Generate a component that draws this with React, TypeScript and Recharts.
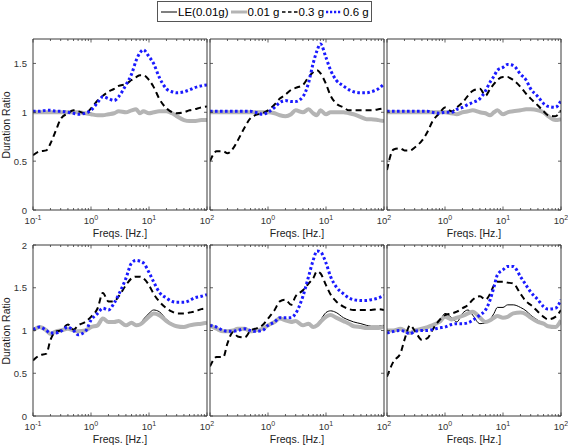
import React from 'react';
import { LineChart, Line, XAxis, YAxis } from 'recharts';

// sample frequencies (Hz) shared by every panel
const FREQS = [0.1, 0.13, 0.17, 0.2, 0.25, 0.3, 0.4, 0.5, 0.6, 0.8, 1, 1.3, 1.6, 2, 2.5, 3, 4, 5, 6, 7, 8, 10, 12, 15, 20, 25, 30, 40, 50, 60, 80, 100];

const X_MAJOR = [0.1, 1, 10, 100];
const X_MINOR = [0.2, 0.3, 0.4, 0.5, 0.6, 0.7, 0.8, 0.9, 2, 3, 4, 5, 6, 7, 8, 9, 20, 30, 40, 50, 60, 70, 80, 90];
const Y_TICKS_TOP = [0, 0.5, 1, 1.5];
const Y_TICKS_BOTTOM = [0, 0.5, 1, 1.5, 2];

const LEGEND = ['LE(0.01g)', '0.01 g', '0.3 g', '0.6 g'];

// top row
const P1_LE = [1.0, 1.0, 1.0, 1.0, 1.0, 1.0, 1.0, 1.0, 1.0, 0.99, 0.99, 0.97, 0.97, 0.98, 0.99, 1.01, 1.0, 1.02, 1.02, 0.98, 1.01, 0.99, 1.0, 1.01, 1.0, 0.99, 0.96, 0.92, 0.91, 0.91, 0.92, 0.92];
const P1_G01 = [1.0, 1.0, 1.0, 1.0, 1.0, 1.0, 1.0, 1.0, 1.0, 0.99, 0.98, 0.97, 0.97, 0.98, 0.99, 1.01, 1.0, 1.02, 1.03, 0.99, 1.01, 0.99, 1.0, 1.01, 1.01, 0.99, 0.96, 0.92, 0.91, 0.91, 0.92, 0.92];
const P1_G03 = [0.56, 0.6, 0.61, 0.68, 0.82, 0.93, 0.99, 1.02, 1.01, 0.99, 1.04, 1.12, 1.17, 1.21, 1.24, 1.27, 1.29, 1.33, 1.36, 1.38, 1.38, 1.33, 1.26, 1.14, 1.04, 1.0, 0.99, 1.0, 1.02, 1.03, 1.05, 1.06];
const P1_G06 = [1.01, 1.01, 1.02, 1.02, 1.01, 1.01, 1.0, 0.99, 0.98, 0.99, 1.02, 1.1, 1.16, 1.14, 1.12, 1.16, 1.28, 1.39, 1.53, 1.61, 1.64, 1.57, 1.5, 1.36, 1.24, 1.21, 1.2, 1.21, 1.23, 1.25, 1.27, 1.28];

const P2_LE = [1.0, 1.0, 1.0, 1.0, 1.0, 1.0, 1.0, 1.0, 1.0, 1.0, 1.0, 0.99, 0.97, 0.96, 0.98, 1.02, 1.0, 1.03, 0.99, 0.97, 1.01, 0.98, 1.0, 1.0, 1.0, 0.99, 0.98, 0.95, 0.93, 0.93, 0.92, 0.91];
const P2_G01 = [1.0, 1.0, 1.0, 1.0, 1.0, 1.0, 1.0, 1.0, 1.0, 1.0, 1.0, 0.99, 0.97, 0.96, 0.98, 1.02, 1.0, 1.03, 0.99, 0.97, 1.02, 0.98, 1.0, 1.0, 1.0, 0.99, 0.98, 0.95, 0.93, 0.93, 0.92, 0.91];
const P2_G03 = [0.5, 0.6, 0.6, 0.58, 0.63, 0.71, 0.85, 0.94, 0.97, 0.99, 1.02, 1.08, 1.14, 1.18, 1.23, 1.25, 1.28, 1.36, 1.41, 1.43, 1.4, 1.29, 1.17, 1.09, 1.05, 1.02, 1.02, 1.02, 1.02, 1.02, 1.03, 1.04];
const P2_G06 = [1.01, 1.01, 1.01, 1.01, 1.01, 1.01, 1.01, 1.01, 1.0, 0.98, 1.0, 1.05, 1.1, 1.12, 1.11, 1.11, 1.16, 1.3, 1.5, 1.63, 1.7, 1.56, 1.43, 1.33, 1.27, 1.23, 1.21, 1.2, 1.2, 1.21, 1.24, 1.29];

const P3_LE = [1.0, 1.0, 1.0, 1.0, 1.0, 1.0, 1.0, 1.0, 1.0, 1.0, 1.0, 0.99, 0.98, 1.0, 1.01, 1.02, 1.0, 0.99, 0.97, 1.0, 1.01, 0.98, 1.0, 1.01, 1.02, 1.03, 1.03, 1.02, 1.0, 0.96, 0.92, 0.93];
const P3_G01 = [1.0, 1.0, 1.0, 1.0, 1.0, 1.0, 1.0, 1.0, 1.0, 1.0, 1.0, 0.99, 0.98, 1.0, 1.01, 1.02, 1.0, 0.99, 0.97, 1.0, 1.02, 0.98, 1.0, 1.01, 1.02, 1.03, 1.03, 1.02, 1.0, 0.96, 0.92, 0.93];
const P3_G03 = [0.41, 0.62, 0.63, 0.61, 0.61, 0.64, 0.71, 0.8, 0.9, 0.99, 1.05, 1.01, 1.05, 1.1, 1.17, 1.22, 1.24, 1.17, 1.24, 1.29, 1.33, 1.36, 1.36, 1.33, 1.26, 1.19, 1.14, 1.07, 1.01, 0.97, 0.96, 1.02];
const P3_G06 = [1.01, 1.01, 1.01, 1.01, 1.01, 1.01, 1.01, 1.01, 1.0, 0.99, 1.0, 1.0, 1.03, 1.05, 1.08, 1.1, 1.14, 1.22, 1.31, 1.37, 1.43, 1.46, 1.49, 1.48, 1.39, 1.33, 1.24, 1.16, 1.09, 1.06, 1.05, 1.12];

// bottom row
const P4_LE = [1.0, 1.04, 1.0, 0.96, 0.99, 1.0, 1.02, 1.0, 0.99, 1.0, 1.04, 1.06, 1.14, 1.1, 1.1, 1.11, 1.06, 1.09, 1.07, 1.08, 1.13, 1.2, 1.24, 1.22, 1.13, 1.08, 1.05, 1.04, 1.06, 1.07, 1.08, 1.09];
const P4_G01 = [1.0, 1.04, 1.0, 0.96, 0.99, 1.0, 1.02, 1.0, 0.99, 1.0, 1.04, 1.06, 1.14, 1.1, 1.1, 1.11, 1.06, 1.09, 1.06, 1.07, 1.1, 1.16, 1.2, 1.18, 1.11, 1.07, 1.05, 1.04, 1.06, 1.07, 1.08, 1.09];
const P4_G03 = [0.65, 0.71, 0.73, 0.89, 0.99, 1.0, 1.07, 1.01, 1.06, 1.1, 1.16, 1.26, 1.44, 1.34, 1.34, 1.4, 1.53, 1.61, 1.63, 1.63, 1.61, 1.53, 1.43, 1.34, 1.26, 1.22, 1.2, 1.2, 1.21, 1.22, 1.25, 1.26];
const P4_G06 = [1.01, 1.04, 1.0, 0.97, 0.97, 0.99, 1.04, 1.0, 0.95, 0.99, 1.12, 1.2, 1.26, 1.24, 1.32, 1.42, 1.61, 1.79, 1.82, 1.81, 1.79, 1.68, 1.57, 1.45, 1.38, 1.34, 1.33, 1.33, 1.35, 1.38, 1.4, 1.42];

const P5_LE = [1.06, 1.02, 0.99, 0.99, 1.0, 1.02, 1.02, 0.99, 1.0, 1.02, 1.06, 1.1, 1.14, 1.12, 1.1, 1.11, 1.06, 1.08, 1.05, 1.07, 1.12, 1.21, 1.23, 1.21, 1.15, 1.12, 1.1, 1.08, 1.06, 1.05, 1.05, 1.06];
const P5_G01 = [1.06, 1.02, 0.99, 0.99, 1.0, 1.02, 1.02, 0.99, 1.0, 1.02, 1.06, 1.1, 1.14, 1.12, 1.1, 1.11, 1.06, 1.08, 1.04, 1.06, 1.1, 1.16, 1.18, 1.15, 1.11, 1.08, 1.05, 1.04, 1.03, 1.03, 1.03, 1.05];
const P5_G03 = [0.58, 0.69, 0.69, 0.85, 0.98, 0.93, 0.92, 1.0, 1.02, 1.06, 1.14, 1.24, 1.34, 1.36, 1.3, 1.4, 1.47, 1.55, 1.61, 1.69, 1.67, 1.53, 1.42, 1.34, 1.28, 1.25, 1.24, 1.24, 1.24, 1.24, 1.25, 1.24];
const P5_G06 = [1.06, 1.04, 1.0, 0.99, 0.99, 1.0, 1.02, 1.0, 0.99, 1.0, 1.06, 1.1, 1.15, 1.15, 1.15, 1.2, 1.4, 1.63, 1.82, 1.93, 1.92, 1.79, 1.63, 1.51, 1.43, 1.38, 1.36, 1.35, 1.35, 1.36, 1.38, 1.41];

const P6_LE = [1.0, 1.0, 1.02, 1.0, 0.98, 1.0, 1.0, 1.03, 1.06, 1.1, 1.2, 1.15, 1.1, 1.2, 1.24, 1.18, 1.08, 1.09, 1.13, 1.2, 1.27, 1.27, 1.3, 1.3, 1.27, 1.23, 1.18, 1.12, 1.08, 1.06, 1.04, 1.1];
const P6_G01 = [1.0, 1.0, 1.02, 1.0, 0.97, 1.0, 1.02, 1.04, 1.06, 1.1, 1.16, 1.13, 1.15, 1.17, 1.2, 1.22, 1.15, 1.1, 1.12, 1.15, 1.17, 1.15, 1.16, 1.2, 1.21, 1.19, 1.15, 1.1, 1.08, 1.05, 1.04, 1.12];
const P6_G03 = [0.46, 0.64, 0.73, 0.89, 1.06, 1.0, 0.89, 0.91, 1.0, 1.12, 1.18, 1.2, 1.22, 1.26, 1.3, 1.36, 1.4, 1.36, 1.43, 1.53, 1.57, 1.57, 1.56, 1.55, 1.43, 1.34, 1.3, 1.22, 1.16, 1.13, 1.16, 1.24];
const P6_G06 = [0.97, 0.99, 1.0, 0.99, 0.96, 0.99, 1.0, 1.0, 1.01, 1.03, 1.04, 1.07, 1.08, 1.08, 1.09, 1.12, 1.18, 1.24, 1.36, 1.51, 1.65, 1.71, 1.75, 1.75, 1.63, 1.53, 1.45, 1.36, 1.28, 1.25, 1.26, 1.36];

const FONT = '"Liberation Sans", Arial, Helvetica, sans-serif';
const AXIS = '#3a3a3a';
const TEXT = '#333';
const C = {
  le: '#000',
  g01: '#b4b4b4',
  g03: '#000',
  g06: '#1a1aff',
};

// plot area geometry; every axis takes 1px, margins around that
const PW = 174;
const PH = 171;
const AX = 1;
const ML = 29;
const MT = 9;
const MR = 9;
const MB = 29;
const COL_X = [33, 210, 387];
const ROW_Y = [39, 245];

const X_TICKS = [...X_MAJOR, ...X_MINOR].sort((a, b) => a - b);

// the 10^-1 label is only drawn on the first column, the neighbour's 10^2 sits there
function xTick(side: 'top' | 'bottom', firstCol: boolean) {
  return (p: any) => {
    const v = p.payload.value;
    const major = X_MAJOR.includes(v);
    const len = major ? 3.5 : 2;
    const dir = side === 'bottom' ? -1 : 1;
    const showLabel = side === 'bottom' && major && (firstCol || v !== X_MAJOR[0]);
    return (
      <g>
        <line x1={p.x} x2={p.x} y1={p.y} y2={p.y + dir * len} stroke={AXIS} strokeWidth={0.8} />
        {showLabel && (
          <text x={p.x} y={p.y + 14} textAnchor="middle" fontSize={9.5} fill={TEXT} fontFamily={FONT}>
            10<tspan dy={-4} fontSize={7}>{Math.round(Math.log10(v))}</tspan>
          </text>
        )}
      </g>
    );
  };
}

function yTick(side: 'left' | 'right', showLabel: boolean) {
  return (p: any) => {
    const v = p.payload.value;
    const dir = side === 'left' ? 1 : -1;
    return (
      <g>
        <line x1={p.x} x2={p.x + dir * 3} y1={p.y} y2={p.y} stroke={AXIS} strokeWidth={0.8} />
        {side === 'left' && showLabel && (
          <text x={p.x - 6} y={p.y + 3.5} textAnchor="end" fontSize={9.5} fill={TEXT} fontFamily={FONT}>
            {String(v)}
          </text>
        )}
      </g>
    );
  };
}

interface PanelProps {
  col: number;
  row: number;
  le: number[];
  g01: number[];
  g03: number[];
  g06: number[];
}

function Panel({ col, row, le, g01, g03, g06 }: PanelProps) {
  const data = FREQS.map((f, i) => ({ f, le: le[i], g01: g01[i], g03: g03[i], g06: g06[i] }));
  const yMax = row === 0 ? 1.75 : 2;
  const yTicks = row === 0 ? Y_TICKS_TOP : Y_TICKS_BOTTOM;
  const left = COL_X[col];
  const top = ROW_Y[row];
  const axisLine = { stroke: AXIS, strokeWidth: 1 };
  return (
    <div style={{ position: 'absolute', left: left - ML - AX, top: top - MT - AX }}>
      <LineChart width={PW + ML + MR + 2 * AX} height={PH + MT + MB + 2 * AX} data={data} margin={{ top: MT, right: MR, bottom: MB, left: ML }}>
        <XAxis xAxisId="b" dataKey="f" type="number" scale="log" domain={[0.1, 100]} allowDataOverflow ticks={X_TICKS} interval={0}
          height={AX} tickSize={0} tickMargin={0} axisLine={axisLine} tickLine={false} tick={xTick('bottom', col === 0)} />
        <XAxis xAxisId="t" orientation="top" dataKey="f" type="number" scale="log" domain={[0.1, 100]} allowDataOverflow ticks={X_TICKS} interval={0}
          height={AX} tickSize={0} tickMargin={0} axisLine={axisLine} tickLine={false} tick={xTick('top', col === 0)} />
        <YAxis yAxisId="l" type="number" domain={[0, yMax]} allowDataOverflow ticks={yTicks} interval={0}
          width={AX} tickSize={0} tickMargin={0} axisLine={axisLine} tickLine={false} tick={yTick('left', col === 0)} />
        <YAxis yAxisId="r" orientation="right" type="number" domain={[0, yMax]} allowDataOverflow ticks={yTicks} interval={0}
          width={AX} tickSize={0} tickMargin={0} axisLine={axisLine} tickLine={false} tick={yTick('right', false)} />
        <Line xAxisId="b" yAxisId="l" type="monotone" dataKey="le" stroke={C.le} strokeWidth={1} dot={false} isAnimationActive={false} />
        <Line xAxisId="b" yAxisId="l" type="monotone" dataKey="g01" stroke={C.g01} strokeWidth={4} dot={false} isAnimationActive={false} />
        <Line xAxisId="b" yAxisId="l" type="monotone" dataKey="g03" stroke={C.g03} strokeWidth={2} strokeDasharray="6 4" dot={false} isAnimationActive={false} />
        <Line xAxisId="b" yAxisId="l" type="monotone" dataKey="g06" stroke={C.g06} strokeWidth={3} strokeDasharray="2.6 2.4" dot={false} isAnimationActive={false} />
      </LineChart>
    </div>
  );
}

function LegendItem({ label, kind }: { label: string; kind: number }) {
  const styles = [
    { stroke: C.le, w: 1, dash: undefined },
    { stroke: C.g01, w: 3, dash: undefined },
    { stroke: C.g03, w: 1.5, dash: '3.5 2.5' },
    { stroke: C.g06, w: 2.5, dash: '2.2 1.8' },
  ][kind];
  return (
    <span style={{ display: 'inline-flex', alignItems: 'center', marginRight: 2 }}>
      <svg width={16} height={10} style={{ marginRight: 1 }}>
        <line x1={0} x2={16} y1={5} y2={5} stroke={styles.stroke} strokeWidth={styles.w} strokeDasharray={styles.dash} />
      </svg>
      <span>{label}</span>
    </span>
  );
}

export default function App() {
  const axisLabel: React.CSSProperties = { position: 'absolute', fontSize: 10.5, color: '#222', whiteSpace: 'nowrap' };
  return (
    <div style={{ position: 'absolute', left: 0, top: 0, width: 568, height: 446, background: '#fff', fontFamily: FONT, overflow: 'hidden' }}>
      <Panel col={0} row={0} le={P1_LE} g01={P1_G01} g03={P1_G03} g06={P1_G06} />
      <Panel col={1} row={0} le={P2_LE} g01={P2_G01} g03={P2_G03} g06={P2_G06} />
      <Panel col={2} row={0} le={P3_LE} g01={P3_G01} g03={P3_G03} g06={P3_G06} />
      <Panel col={0} row={1} le={P4_LE} g01={P4_G01} g03={P4_G03} g06={P4_G06} />
      <Panel col={1} row={1} le={P5_LE} g01={P5_G01} g03={P5_G03} g06={P5_G06} />
      <Panel col={2} row={1} le={P6_LE} g01={P6_G01} g03={P6_G03} g06={P6_G06} />

      {ROW_Y.map((ry) =>
        COL_X.map((cx) => (
          <div key={`${ry}-${cx}`} style={{ ...axisLabel, left: cx, width: PW, textAlign: 'center', top: ry + PH + 17 }}>
            Freqs. [Hz.]
          </div>
        ))
      )}
      {ROW_Y.map((ry) => (
        <div key={ry} style={{ ...axisLabel, left: 6, top: ry + PH / 2, transform: 'translate(-50%, -50%) rotate(-90deg)' }}>
          Duration Ratio
        </div>
      ))}

      <div style={{ position: 'absolute', left: 157, top: 1, width: 210, height: 19, border: '1px solid #555', background: '#fff',
        display: 'flex', alignItems: 'center', paddingLeft: 3, boxSizing: 'content-box', fontSize: 11.5, color: '#000' }}>
        {LEGEND.map((l, i) => (
          <LegendItem key={l} label={l} kind={i} />
        ))}
      </div>
    </div>
  );
}
